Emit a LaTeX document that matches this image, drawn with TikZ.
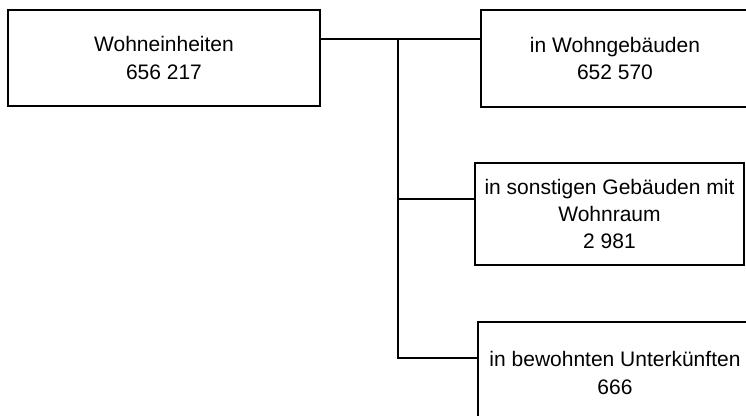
\documentclass[tikz,border=0pt]{standalone}
\usepackage{fontspec}
\setmainfont{Liberation Sans}

\begin{document}
\begin{tikzpicture}[x=0.5pt,y=-0.5pt,
		box/.style={draw, line width=1pt, align=center, inner sep=0pt,
			font=\fontsize{10.5}{13.5}\selectfont},
		link/.style={line width=1pt}]
		\useasboundingbox (0,0) rectangle (746,416);
		\node[box, minimum width=156pt, minimum height=48pt] (units) at (164,58) {Wohneinheiten\\656 217};
		\node[box, minimum width=134pt, minimum height=48.5pt] (wgeb) at (615,58.5) {in Wohngebäuden\\652 570};
		\node[box, minimum width=134.5pt, minimum height=51pt] (sgeb) at (609.5,214) {in sonstigen Gebäuden mit\\Wohnraum\\2 981};
		\node[box, minimum width=137pt, minimum height=51pt] (unterk) at (615,373) {in bewohnten Unterkünften\\666};
		\coordinate (split) at (398,39);
		\coordinate (j3) at (398,199);
		\coordinate (j4) at (398,358);
		\draw[link] (units.east |- split) -- (split) -- (wgeb.west |- split);
		\draw[link] (split) -- (j4) -- (unterk.west |- j4);
		\draw[link] (j3) -- (sgeb.west |- j3);
\end{tikzpicture}
\end{document}
